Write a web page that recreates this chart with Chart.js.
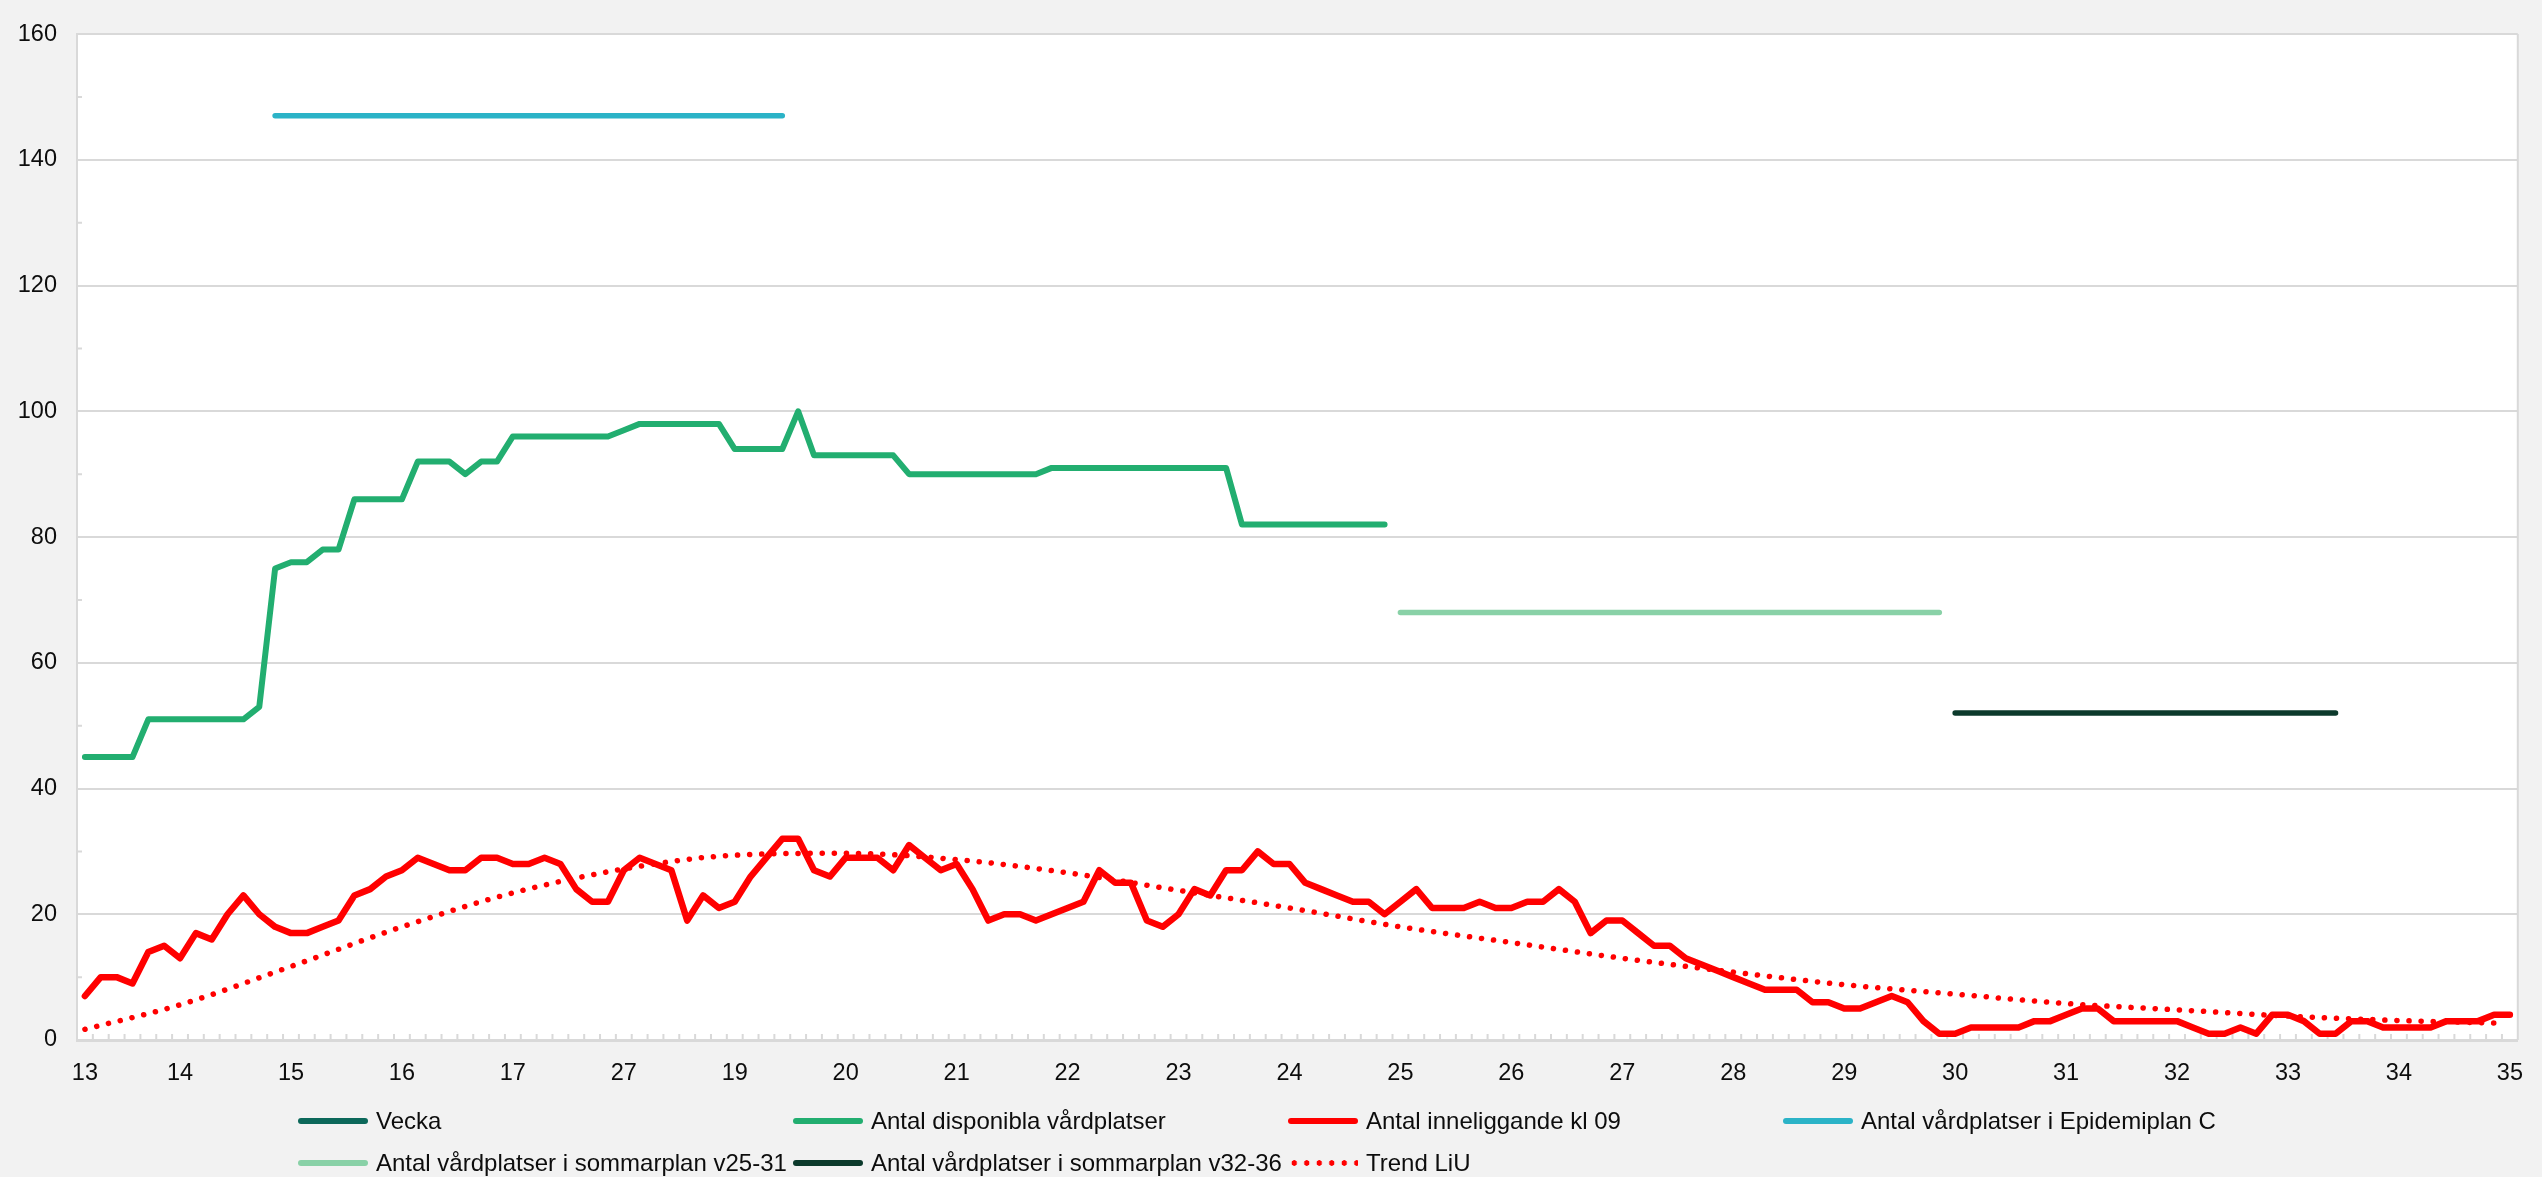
<!DOCTYPE html>
<html>
<head>
<meta charset="utf-8">
<script src="https://cdn.jsdelivr.net/npm/chart.js@4.4.1/dist/chart.umd.min.js"></script>
<style>
  html, body { margin: 0; padding: 0; background: #f2f2f2; overflow: hidden; }
  #wrap { position: relative; width: 2542px; height: 1177px; }
  #legend {
    position: absolute; left: 298px; top: 1100px;
    display: grid; grid-template-columns: repeat(4, 495px); grid-auto-rows: 42px;
    font: 24px 'Liberation Sans', Arial, sans-serif; color: #0d0d0d;
  }
  .item { display: flex; align-items: center; white-space: nowrap; }
  .mark { width: 70px; height: 6px; border-radius: 3px; margin-right: 8px; flex: none; }
</style>
</head>
<body>
<div id="wrap">
  <canvas id="chart" width="2542" height="1177"></canvas>
  <div id="legend"></div>
</div>
<script>
const weeks = ['13', '14', '15', '16', '17', '27', '19', '20', '21', '22', '23', '24',
               '25', '26', '27', '28', '29', '30', '31', '32', '33', '34', '35'];
const daysInWeek = [6, 7, 7, 7, 7, 7, 7, 7, 7, 7, 7, 7, 7, 7, 7, 7, 7, 7, 7, 7, 7, 7, 1];

// Antal inneliggande kl 09, one value per day
const inneliggande = [
  7, 10, 10, 9, 14, 15, 13, 17, 16, 20,
  23, 20, 18, 17, 17, 18, 19, 23, 24, 26,
  27, 29, 28, 27, 27, 29, 29, 28, 28, 29,
  28, 24, 22, 22, 27, 29, 28, 27, 19, 23,
  21, 22, 26, 29, 32, 32, 27, 26, 29, 29,
  29, 27, 31, 29, 27, 28, 24, 19, 20, 20,
  19, 20, 21, 22, 27, 25, 25, 19, 18, 20,
  24, 23, 27, 27, 30, 28, 28, 25, 24, 23,
  22, 22, 20, 22, 24, 21, 21, 21, 22, 21,
  21, 22, 22, 24, 22, 17, 19, 19, 17, 15,
  15, 13, 12, 11, 10, 9, 8, 8, 8, 6,
  6, 5, 5, 6, 7, 6, 3, 1, 1, 2,
  2, 2, 2, 3, 3, 4, 5, 5, 3, 3,
  3, 3, 3, 2, 1, 1, 2, 1, 4, 4,
  3, 1, 1, 3, 3, 2, 2, 2, 2, 3,
  3, 3, 4, 4
];

// Antal disponibla vårdplatser (ends week 24)
const disponibla = [
  45, 45, 45, 45, 51, 51, 51, 51, 51, 51,
  51, 53, 75, 76, 76, 78, 78, 86, 86, 86,
  86, 92, 92, 92, 90, 92, 92, 96, 96, 96,
  96, 96, 96, 96, 97, 98, 98, 98, 98, 98,
  98, 94, 94, 94, 94, 100, 93, 93, 93, 93,
  93, 93, 90, 90, 90, 90, 90, 90, 90, 90,
  90, 91, 91, 91, 91, 91, 91, 91, 91, 91,
  91, 91, 91, 82, 82, 82, 82, 82, 82, 82,
  82, 82, 82
];

// planned bed counts: Epidemiplan C, sommarplan v25-31, sommarplan v32-36
const planStart = [12, 83, 118];
const planEnd = [44, 117, 142];
const planValue = [147, 68, 52];

const trendIndex = [0, 6, 13, 20, 27, 34, 41, 48, 55, 62, 69, 76, 83, 90, 97, 104, 111, 118, 125, 132, 139, 146, 152];
const trendValue = [1.7, 5.6, 11.7, 18.0, 23.4, 27.2, 29.4, 29.7, 28.7, 26.6, 23.8, 21.0, 18.0, 15.5, 13.0, 10.8, 8.8, 7.3, 5.8, 4.8, 3.8, 3.1, 2.7];

const labels = weeks.flatMap((w, k) => Array(daysInWeek[k]).fill(w));

const planSeries = (k) => labels.map((_, i) => (i >= planStart[k] && i <= planEnd[k]) ? planValue[k] : null);

const trend = labels.map(() => null);
trendIndex.forEach((idx, k) => { trend[idx] = trendValue[k]; });

const family = "'Liberation Sans', Arial, sans-serif";
Chart.defaults.font.family = family;

const frame = {
  id: 'frame',
  beforeDraw(chart) {
    const {ctx, chartArea: a} = chart;
    ctx.save();
    ctx.fillStyle = '#f2f2f2';
    ctx.fillRect(0, 0, chart.width, chart.height);
    ctx.fillStyle = '#ffffff';
    ctx.fillRect(a.left, a.top, a.right - a.left, a.bottom - a.top);
    ctx.restore();
  },
  beforeDatasetsDraw(chart) {
    const {ctx, chartArea: a, scales: {x, y}} = chart;
    ctx.save();
    ctx.strokeStyle = '#d9d9d9';
    ctx.lineWidth = 2;
    ctx.beginPath();
    ctx.moveTo(a.right, a.top);
    ctx.lineTo(a.right, a.bottom);
    for (let i = 1; i < labels.length; i++) {
      const px = (x.getPixelForValue(i - 1) + x.getPixelForValue(i)) / 2;
      ctx.moveTo(px, a.bottom);
      ctx.lineTo(px, a.bottom - 6);
    }
    for (let v = 10; v < 160; v += 20) {
      const py = y.getPixelForValue(v);
      ctx.moveTo(a.left, py);
      ctx.lineTo(a.left + 5, py);
    }
    ctx.stroke();
    ctx.restore();
  }
};

const line = (label, data, color, width) => ({
  label,
  data,
  borderColor: color,
  backgroundColor: color,
  borderWidth: width,
  borderCapStyle: 'round',
  borderJoinStyle: 'round',
  pointRadius: 0,
  fill: false
});

const chart = new Chart(document.getElementById('chart'), {
  type: 'line',
  data: {
    labels,
    datasets: [
      line('Vecka', [], '#0c685a', 6),
      line('Antal disponibla vårdplatser', disponibla, '#22ae70', 6),
      line('Antal inneliggande kl 09', inneliggande, '#ff0000', 6.5),
      line('Antal vårdplatser i Epidemiplan C', planSeries(0), '#2bb3c7', 5.5),
      line('Antal vårdplatser i sommarplan v25-31', planSeries(1), '#89d1a7', 5.5),
      line('Antal vårdplatser i sommarplan v32-36', planSeries(2), '#0c3a2c', 5.5),
      {
        ...line('Trend LiU', trend, '#ff0000', 5.5),
        borderDash: [0.1, 12],
        spanGaps: true,
        cubicInterpolationMode: 'monotone'
      }
    ]
  },
  options: {
    responsive: false,
    animation: false,
    devicePixelRatio: 1,
    layout: { padding: { top: 19, right: 17, left: 0, bottom: 0 } },
    plugins: {
      legend: { display: false },
      tooltip: { enabled: false }
    },
    scales: {
      x: {
        offset: true,
        grid: { display: false, drawTicks: false },
        border: { color: '#d9d9d9', width: 3 },
        ticks: {
          autoSkip: false,
          maxRotation: 0,
          minRotation: 0,
          padding: 19,
          color: '#0d0d0d',
          font: { size: 23.5 },
          callback: (v, i) => (i === 0 || labels[i] !== labels[i - 1]) ? labels[i] : ''
        },
        afterFit: (s) => { s.height = 137; }
      },
      y: {
        min: 0,
        max: 160,
        ticks: { stepSize: 20, padding: 20, color: '#0d0d0d', font: { size: 23.5 } },
        grid: { color: '#d9d9d9', lineWidth: 2, drawTicks: false },
        border: { color: '#d9d9d9', width: 2 },
        afterFit: (s) => { s.width = 77; }
      }
    }
  },
  plugins: [frame]
});

const legend = document.getElementById('legend');
chart.data.datasets.forEach((ds) => {
  const item = document.createElement('div');
  item.className = 'item';
  const mark = document.createElement('span');
  mark.className = 'mark';
  if (ds.borderDash) {
    mark.style.background = `radial-gradient(circle, ${ds.borderColor} 2.5px, transparent 3px) 0 0 / 12.5px 6px repeat-x`;
    mark.style.borderRadius = '0';
  } else {
    mark.style.background = ds.borderColor;
  }
  const text = document.createElement('span');
  text.textContent = ds.label;
  item.appendChild(mark);
  item.appendChild(text);
  legend.appendChild(item);
});
</script>
</body>
</html>
